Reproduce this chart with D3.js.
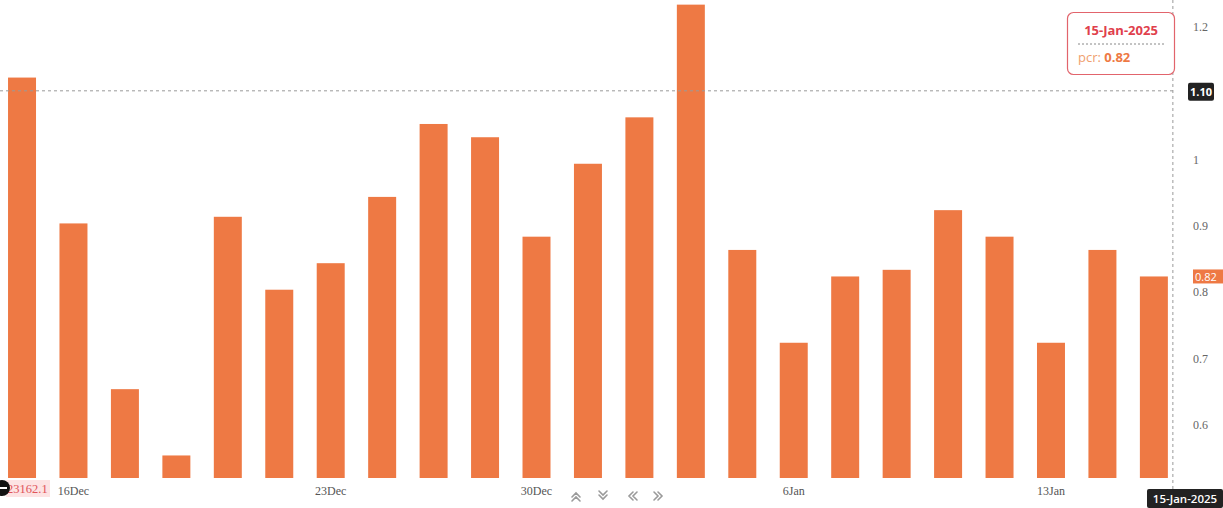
<!DOCTYPE html>
<html>
<head>
<meta charset="utf-8">
<script src="https://cdn.jsdelivr.net/npm/d3@7/dist/d3.min.js"></script>
<style>
html,body{margin:0;padding:0;background:#fff;}
svg{display:block;}
</style>
</head>
<body>
<svg id="chart" width="1223" height="508"></svg>
<script>
const dates = ["13Dec","16Dec","17Dec","18Dec","19Dec","20Dec","23Dec","24Dec","26Dec","27Dec","30Dec","31Dec","1Jan","2Jan","3Jan","6Jan","7Jan","8Jan","9Jan","10Jan","13Jan","14Jan","15Jan"];
const pcr = [1.12,0.90,0.65,0.55,0.91,0.80,0.84,0.94,1.05,1.03,0.88,0.99,1.06,1.23,0.86,0.72,0.82,0.83,0.92,0.88,0.72,0.86,0.82];
const xLabels = ["16Dec","23Dec","30Dec","6Jan","13Jan"];
const yTicks = [0.6,0.7,0.8,0.9,1,1.2];
const crossValue = 1.10;
const lastDateLabel = "15-Jan-2025";
const priceLabel = "23162.1";

const svg = d3.select("#chart");
const barColor = "#ee7944";
const serif = "'Liberation Serif','DejaVu Serif',serif";
const sans = "'Open Sans','Noto Sans',sans-serif";

const x = d3.scaleBand().domain(dates).range([-3.7, 1179.6]).paddingInner(0.456).paddingOuter(0.228);
const y = d3.scaleLinear().domain([0.516, 1.237]).range([478, 0]);

// bars
svg.append("g").selectAll("rect").data(dates).join("rect")
  .attr("x", d => x(d))
  .attr("width", x.bandwidth())
  .attr("y", (d,i) => y(pcr[i]))
  .attr("height", (d,i) => y.range()[0] - y(pcr[i]))
  .attr("fill", barColor);

// x labels
svg.append("g").selectAll("text").data(xLabels).join("text")
  .attr("x", d => x(d) + x.bandwidth()/2)
  .attr("y", 495)
  .attr("text-anchor", "middle")
  .attr("font-family", serif)
  .attr("font-size", 12)
  .attr("fill", "#555")
  .text(d => d);

// y axis labels (right)
svg.append("g").selectAll("text").data(yTicks).join("text")
  .attr("x", 1193)
  .attr("y", d => y(d) + 6.5)
  .attr("font-family", serif)
  .attr("font-size", 12)
  .attr("fill", "#666")
  .text(d => d3.format("")(d));

// crosshair
const lastDate = dates[dates.length-1];
const cx = x(lastDate) + x.bandwidth() + 5;
const cy = y(crossValue);
svg.append("line").attr("x1", 0).attr("x2", cx).attr("y1", cy).attr("y2", cy)
  .attr("stroke", "#999").attr("stroke-dasharray", "3,3").attr("stroke-width", 1);
svg.append("line").attr("x1", cx).attr("x2", cx).attr("y1", 0).attr("y2", 490)
  .attr("stroke", "#999").attr("stroke-dasharray", "3,3").attr("stroke-width", 1);

// crosshair value label
svg.append("rect").attr("x", 1188).attr("y", cy - 8).attr("width", 26).attr("height", 18).attr("rx", 2).attr("fill", "#222");
svg.append("text").attr("x", 1201).attr("y", cy + 5).attr("text-anchor", "middle")
  .attr("font-family", sans).attr("font-size", 11).attr("font-weight", "bold").attr("fill", "#fff")
  .text(crossValue.toFixed(2));

// last value label
const lastVal = pcr[pcr.length-1];
svg.append("rect").attr("x", 1193).attr("y", y(lastVal) - 7).attr("width", 30).attr("height", 14).attr("fill", barColor);
svg.append("text").attr("x", 1195).attr("y", y(lastVal) + 4.5)
  .attr("font-family", sans).attr("font-size", 11).attr("fill", "#fff")
  .text(lastVal.toFixed(2));

// bottom date label
svg.append("rect").attr("x", 1147).attr("y", 489).attr("width", 76).attr("height", 19).attr("rx", 2).attr("fill", "#222");
svg.append("text").attr("x", 1185).attr("y", 503).attr("text-anchor", "middle")
  .attr("font-family", sans).attr("font-size", 11.5).attr("font-weight", 600).attr("fill", "#fff")
  .text(lastDateLabel);

// bottom-left price label
svg.append("rect").attr("x", 6).attr("y", 480).attr("width", 44).attr("height", 17).attr("fill", "#fde3e3");
svg.append("text").attr("x", 7).attr("y", 493)
  .attr("font-family", serif).attr("font-size", 12.5).attr("fill", "#e0555a")
  .text(priceLabel);
svg.append("circle").attr("cx", 2).attr("cy", 488).attr("r", 8).attr("fill", "#111");
svg.append("line").attr("x1", -3).attr("x2", 7).attr("y1", 488).attr("y2", 488).attr("stroke", "#fff").attr("stroke-width", 2);

// navigation icons
const nav = svg.append("g").attr("fill", "none").attr("stroke", "#9a9a9a").attr("stroke-width", 1.6).attr("stroke-linecap", "round");
const icons = [
  {cx: 576, d: "M-4,1 L0,-3 L4,1 M-4,5 L0,1 L4,5"},
  {cx: 603, d: "M-4,-5 L0,-1 L4,-5 M-4,-1 L0,3 L4,-1"},
  {cx: 632, d: "M1,-4 L-3,0 L1,4 M5,-4 L1,0 L5,4"},
  {cx: 659, d: "M-5,-4 L-1,0 L-5,4 M-1,-4 L3,0 L-1,4"}
];
icons.forEach(ic => nav.append("path").attr("transform", `translate(${ic.cx},496)`).attr("d", ic.d));

// tooltip
const tt = svg.append("g").attr("transform", "translate(1067,12)");
tt.append("rect").attr("x", 0.5).attr("y", 0.5).attr("width", 107).attr("height", 62).attr("rx", 6)
  .attr("fill", "#fff").attr("stroke", "#e2646c").attr("stroke-width", 1.2);
tt.append("text").attr("x", 54).attr("y", 23).attr("text-anchor", "middle")
  .attr("font-family", sans).attr("font-size", 13).attr("font-weight", "bold").attr("fill", "#e0404c")
  .text(lastDateLabel);
tt.append("line").attr("x1", 11).attr("x2", 97).attr("y1", 32).attr("y2", 32)
  .attr("stroke", "#888").attr("stroke-dasharray", "2,2");
const t2 = tt.append("text").attr("x", 11).attr("y", 50).attr("font-family", sans).attr("font-size", 13);
t2.append("tspan").attr("fill", "#f0a06e").text("pcr: ");
t2.append("tspan").attr("fill", "#ee7944").attr("font-weight", "bold").text(lastVal.toFixed(2));
</script>
</body>
</html>
